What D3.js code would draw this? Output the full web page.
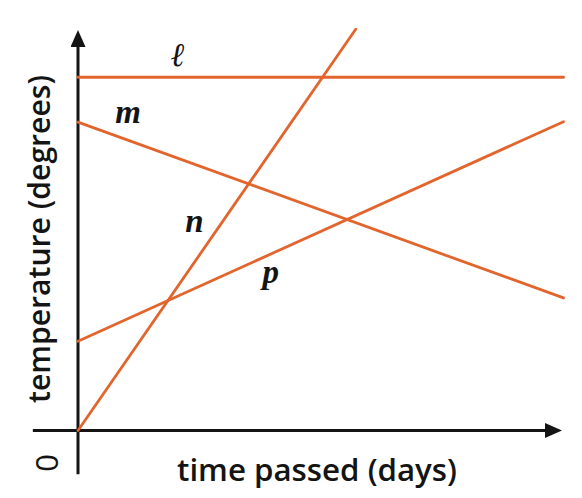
<!DOCTYPE html>
<html>
<head>
<meta charset="utf-8">
<script src="https://cdn.jsdelivr.net/npm/d3@7"></script>
<style>
  html, body { margin: 0; padding: 0; background: #fff; }
  svg { display: block; }
</style>
</head>
<body>
<svg id="chart" width="582" height="498"></svg>
<script>
// ---- data (abstract units: time 0..10, temperature 0..10) ----
const lineNames  = ["ℓ", "m", "n", "p"];
const lineStartX = [0, 0, 0, 0];
const lineStartY = [8.82, 7.7, 0, 2.23];
const lineEndX   = [10, 10, 5.72, 10];
const lineEndY   = [8.82, 3.31, 10.02, 7.71];
const labelX     = [2.06, 1.03, 2.4, 3.97];
const labelY     = [9.1, 7.68, 4.95, 3.68];
const xTitle = "time passed (days)";
const yTitle = "temperature (degrees)";
const originLabel = "0";

const svg = d3.select("#chart");
const x = d3.scaleLinear().domain([0, 10]).range([78, 563.5]);
const y = d3.scaleLinear().domain([0, 10]).range([430.5, 30]);

const orange = "#E2652D";
const ink = "#141414";

// arrow markers
const defs = svg.append("defs");
defs.append("marker")
  .attr("id", "arrow")
  .attr("viewBox", "0 0 17 15")
  .attr("refX", 0).attr("refY", 7.5)
  .attr("markerWidth", 17).attr("markerHeight", 15)
  .attr("markerUnits", "userSpaceOnUse")
  .attr("orient", "auto")
  .append("path")
  .attr("d", "M0,0 L17,7.5 L0,15 Z")
  .attr("fill", ink);

// axes
const xAxisG = svg.append("g").attr("transform", `translate(0,${y(0)})`);
xAxisG.call(d3.axisBottom(x).ticks(0).tickSize(0).tickSizeOuter(0));
xAxisG.select(".domain").remove();
xAxisG.append("line")
  .attr("x1", x(-0.93)).attr("x2", x(10) - 18.5)
  .attr("y1", 0).attr("y2", 0)
  .attr("stroke", ink).attr("stroke-width", 3)
  .attr("marker-end", "url(#arrow)");

const yAxisG = svg.append("g").attr("transform", `translate(${x(0)},0)`);
yAxisG.call(d3.axisLeft(y).ticks(0).tickSize(0).tickSizeOuter(0));
yAxisG.select(".domain").remove();
yAxisG.append("line")
  .attr("x1", 0).attr("x2", 0)
  .attr("y1", y(-1.09)).attr("y2", y(10) + 17)
  .attr("stroke", ink).attr("stroke-width", 3)
  .attr("marker-end", "url(#arrow)");

// lines
const lines = lineNames.map((n, i) => ({
  name: n,
  pts: [[lineStartX[i], lineStartY[i]], [lineEndX[i], lineEndY[i]]],
  lx: labelX[i], ly: labelY[i]
}));
const lineGen = d3.line().x(d => x(d[0])).y(d => y(d[1]));
svg.append("g").selectAll("path").data(lines).join("path")
  .attr("d", d => lineGen(d.pts))
  .attr("fill", "none")
  .attr("stroke", orange)
  .attr("stroke-width", 2.8)
  .attr("stroke-linecap", "round");

// line labels
svg.append("g").selectAll("text").data(lines).join("text")
  .attr("x", d => x(d.lx))
  .attr("y", d => y(d.ly))
  .attr("text-anchor", "middle")
  .attr("font-family", "'Liberation Serif', 'DejaVu Serif', serif")
  .attr("font-style", "italic")
  .attr("font-weight", "bold")
  .attr("font-size", 33)
  .attr("fill", ink)
  .text(d => d.name);

// titles
function fit(sel, target) {
  const len = sel.node().getComputedTextLength();
  const fs = parseFloat(sel.attr("font-size"));
  sel.attr("font-size", fs * target / len);
}
const xt = svg.append("text")
  .attr("x", 317).attr("y", 481)
  .attr("text-anchor", "middle")
  .attr("font-family", "'Open Sans', sans-serif")
  .attr("font-weight", 600)
  .attr("font-size", 26)
  .attr("fill", ink)
  .text(xTitle);
fit(xt, 280);

const yt = svg.append("text")
  .attr("transform", "translate(50,239) rotate(-90)")
  .attr("text-anchor", "middle")
  .attr("font-family", "'Open Sans', sans-serif")
  .attr("font-weight", 600)
  .attr("font-size", 26)
  .attr("fill", ink)
  .text(yTitle);
fit(yt, 328);

svg.append("text")
  .attr("transform", "translate(58,463) rotate(-90)")
  .attr("text-anchor", "middle")
  .attr("font-family", "'Open Sans', sans-serif")
  .attr("font-weight", 400)
  .attr("font-size", 31)
  .attr("fill", ink)
  .text(originLabel);
</script>
</body>
</html>
